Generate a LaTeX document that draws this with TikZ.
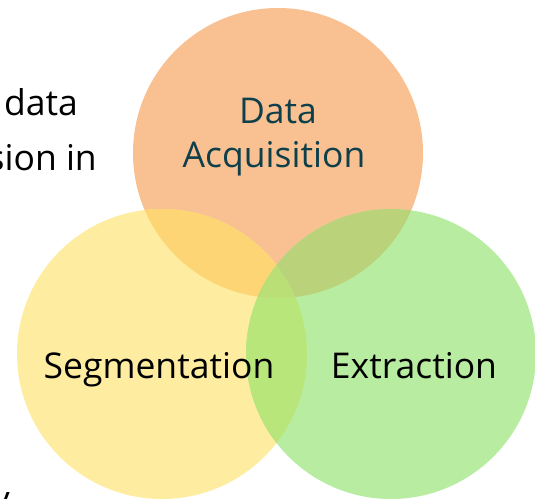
\documentclass[tikz,border=0pt]{standalone}
\usepackage{fontspec}
\setmainfont{Open Sans}[Ligatures=NoCommon]
\newcommand*{\rad}{145}
\definecolor{acqorange}{HTML}{F9C192}
\definecolor{segyellow}{HTML}{FEEDA0}
\definecolor{extgreen}{HTML}{B8EDA1}
\definecolor{acqseg}{HTML}{FDD574}
\definecolor{acqext}{HTML}{BAD27A}
\definecolor{segext}{HTML}{B9E67B}
\definecolor{allthree}{HTML}{B9DF76}
\definecolor{darkteal}{HTML}{0E3F4B}
\begin{document}
\begin{tikzpicture}[x=1pt,y=-1pt,font=\fontsize{35.5}{40}\selectfont,
    lbl/.style={inner sep=0pt,anchor=base}]
    \useasboundingbox (0,0) rectangle (535,498);
    \clip (0,0) rectangle (535,498);
    % circles
    \coordinate (acq) at (278,153);
    \coordinate (seg) at (162,354);
    \coordinate (ext) at (391,354);
    \fill [acqorange] (acq) circle (\rad);
    \fill [segyellow] (seg) circle (\rad);
    \fill [extgreen]  (ext) circle (\rad);
    % overlaps
    \begin{scope}
        \clip (acq) circle (\rad);
        \fill [acqseg] (seg) circle (\rad);
        \fill [acqext] (ext) circle (\rad);
        \clip (seg) circle (\rad);
        \fill [allthree] (ext) circle (\rad);
    \end{scope}
    \begin{scope}[even odd rule]
        \clip (seg) circle (\rad);
        \clip (acq) circle (\rad) (-10,-10) rectangle (600,600);
        \fill [segext] (ext) circle (\rad);
    \end{scope}
    % labels
    \node [lbl, text=darkteal] (acqa) at (278,123) {Data};
    \node [lbl, text=darkteal] (acqb) at (274,167) {Acquisition};
    \node [lbl] (segl) at (159,378) {Segmentation};
    \node [lbl] (extl) at (414,378) {Extraction};
    % cut off text on the left
    \node [lbl, anchor=base east] (txta) at (78,115) {data};
    \node [lbl, anchor=base east] (txtb) at (97,170) {sion in};
    \node [lbl, anchor=base east] (txtc) at (10,511) {y};
\end{tikzpicture}
\end{document}
